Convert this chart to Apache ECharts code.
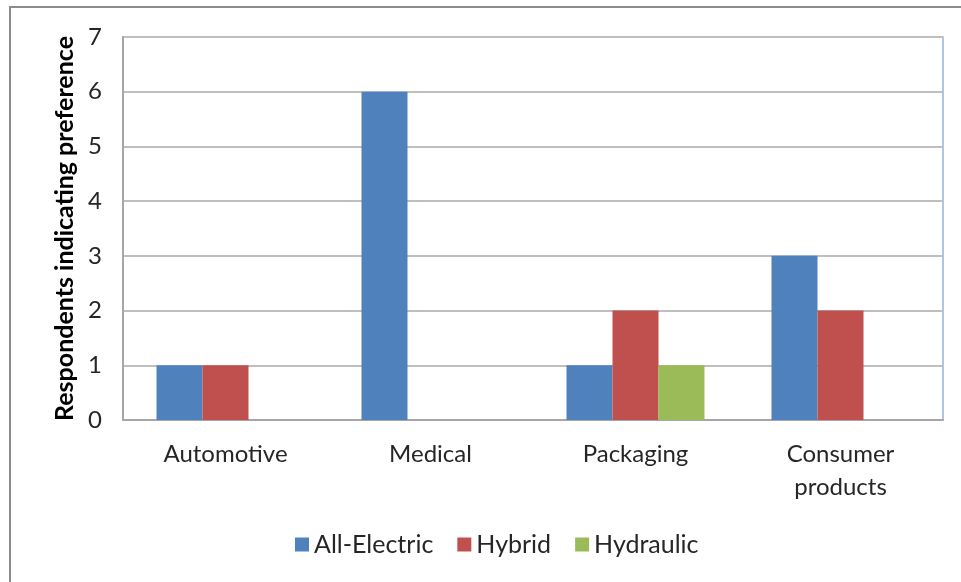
<!DOCTYPE html>
<html>
<head>
<meta charset="utf-8">
<script src="https://cdn.jsdelivr.net/npm/echarts@6/dist/echarts.min.js"></script>
<style>
  html, body { margin: 0; padding: 0; background: #fff; }
  #chart { width: 961px; height: 582px; }
</style>
</head>
<body>
<div id="chart"></div>
<script>
// Application categories and respondent counts per drive technology
const categories = ['Automotive', 'Medical', 'Packaging', 'Consumer products'];
const allElectric = [1, 6, 1, 3];
const hybrid = [1, 0, 2, 2];
const hydraulic = [0, 0, 1, 0];
const yTicks = [0, 1, 2, 3, 4, 5, 6, 7];

const font = 'Lato, "Open Sans", sans-serif';
const chart = echarts.init(document.getElementById('chart'));

function barSeries(name, data, color) {
  return {
    name: name,
    type: 'bar',
    data: data,
    barWidth: 46,
    barGap: '0%',
    itemStyle: { color: color },
    emphasis: { disabled: true }
  };
}

chart.setOption({
  animation: false,
  backgroundColor: '#ffffff',
  graphic: [{
    type: 'rect',
    shape: { x: 10, y: 7, width: 1000, height: 700 },
    style: { fill: 'none', stroke: '#8c8c8c', lineWidth: 2 },
    silent: true,
    z: -1
  }],
  grid: {
    left: 123, top: 37, right: 18, bottom: 162,
    show: true,
    borderColor: '#95b3d7',
    borderWidth: 1.5,
    containLabel: false
  },
  legend: {
    top: 527,
    left: 290,
    itemWidth: 14,
    itemHeight: 14,
    itemGap: 24,
    icon: 'rect',
    textStyle: { fontFamily: font, fontSize: 25, color: '#262626' },
    data: ['All-Electric', 'Hybrid', 'Hydraulic']
  },
  xAxis: {
    type: 'category',
    data: categories,
    axisLine: { lineStyle: { color: '#a6a6a6', width: 2 } },
    axisTick: { show: false },
    axisLabel: {
      fontFamily: font,
      fontSize: 24,
      color: '#262626',
      margin: 18,
      lineHeight: 33,
      interval: 0,
      formatter: v => v.replace(' ', '\n')
    }
  },
  yAxis: {
    type: 'value',
    min: yTicks[0],
    max: yTicks[yTicks.length - 1],
    interval: 1,
    name: 'Respondents indicating preference',
    nameLocation: 'middle',
    nameGap: 46,
    nameRotate: 90,
    nameTextStyle: { fontFamily: font, fontSize: 25, fontWeight: 'bold', color: '#000' },
    axisLine: { show: true, lineStyle: { color: '#a6a6a6', width: 2 } },
    axisTick: { show: false },
    axisLabel: { fontFamily: font, fontSize: 24, color: '#262626', margin: 21 },
    splitLine: { lineStyle: { color: '#bfbfbf', width: 2 } }
  },
  series: [
    barSeries('All-Electric', allElectric, '#4f81bd'),
    barSeries('Hybrid', hybrid, '#c0504d'),
    barSeries('Hydraulic', hydraulic, '#9bbb59')
  ]
});
</script>
</body>
</html>
